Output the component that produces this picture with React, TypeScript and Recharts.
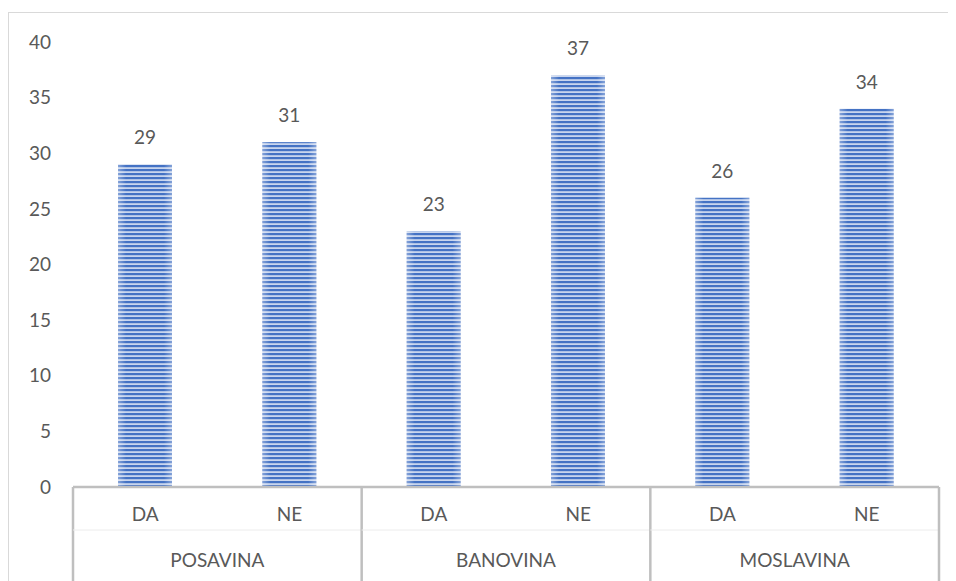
import React from "react";
import { Bar, BarChart, LabelList, XAxis, YAxis } from "recharts";

const groups = ["POSAVINA", "BANOVINA", "MOSLAVINA"];
const answers = ["DA", "NE"];
const values = [29, 31, 23, 37, 26, 34];
const yTicks = [0, 5, 10, 15, 20, 25, 30, 35, 40];

const data = values.map((value, i) => ({
  key: `${groups[Math.floor(i / answers.length)]}-${answers[i % answers.length]}`,
  answer: answers[i % answers.length],
  group: groups[Math.floor(i / answers.length)],
  value,
}));

const W = 946;
const H = 569;
const X_HEIGHT = 95;
const M = { top: 29, right: 16, bottom: 0, left: 0 };
const Y_WIDTH = 64;
const BAND = (W - M.left - M.right - Y_WIDTH) / values.length;
const TEXT = "#595959";
const AXIS = "#bfbfbf";
const FONT = "Lato, 'Open Sans', sans-serif";
const FS = 19;

const StripedBar = (props: any) => {
  const { x, y, width, height } = props;
  if (!height || height <= 0) return null;
  return (
    <g>
      <rect x={x} y={y} width={width} height={height} fill="url(#stripes)" />
      <rect x={x} y={y} width={width} height={height} fill="url(#sheen)" />
    </g>
  );
};

const CategoryTick = (props: any) => {
  const { x, y, index, payload } = props;
  const row = data[index] || data.find((d) => d.key === payload.value);
  const first = index % answers.length === 0;
  return (
    <g>
      <text
        x={x}
        y={y + 34}
        textAnchor="middle"
        fill={TEXT}
        fontSize={FS}
        fontFamily={FONT}
      >
        {row ? row.answer : ""}
      </text>
      {first && (
        <>
          <line
            x1={x - BAND / 2}
            x2={x - BAND / 2}
            y1={y}
            y2={H}
            stroke={AXIS}
            strokeWidth={2.5}
          />
          <line
            x1={x - BAND / 2}
            x2={x - BAND / 2 + BAND * answers.length}
            y1={y + 43}
            y2={y + 43}
            stroke="#ececec"
            strokeWidth={1}
          />
          <text
            x={x + BAND / 2}
            y={y + 80}
            textAnchor="middle"
            fill={TEXT}
            fontSize={FS}
            fontFamily={FONT}
          >
            {row ? row.group : ""}
          </text>
        </>
      )}
      {index === values.length - 1 && (
        <line
          x1={x + BAND / 2}
          x2={x + BAND / 2}
          y1={y}
          y2={H}
          stroke={AXIS}
          strokeWidth={2.5}
        />
      )}
    </g>
  );
};

export default function App() {
  return (
    <div
      style={{
        marginTop: 4,
        width: W,
        height: H + 10,
        border: "1px solid #d9d9d9",
        background: "#fff",
      }}
    >
      <BarChart width={W} height={H} data={data} margin={M}>
        <defs>
          <pattern
            id="stripes"
            patternUnits="userSpaceOnUse"
            width={8}
            height={4}
          >
            <rect x={0} y={0} width={8} height={4} fill="#c8d5ee" />
            <rect x={0} y={0} width={8} height={2.2} fill="#4472c4" />
          </pattern>
          <linearGradient id="sheen" x1="0" y1="0" x2="1" y2="0">
            <stop offset="0%" stopColor="#ffffff" stopOpacity={0.35} />
            <stop offset="15%" stopColor="#ffffff" stopOpacity={0} />
            <stop offset="85%" stopColor="#ffffff" stopOpacity={0} />
            <stop offset="100%" stopColor="#ffffff" stopOpacity={0.35} />
          </linearGradient>
        </defs>
        <XAxis
          dataKey="key"
          interval={0}
          height={X_HEIGHT}
          tickSize={0}
          tickMargin={0}
          axisLine={{ stroke: AXIS, strokeWidth: 2.5 }}
          tickLine={false}
          tick={<CategoryTick />}
        />
        <YAxis
          width={Y_WIDTH}
          domain={[0, 40]}
          ticks={yTicks}
          axisLine={false}
          tickLine={false}
          tickSize={0}
          tickMargin={22}
          tick={{ fill: TEXT, fontSize: FS, fontFamily: FONT }}
        />
        <Bar
          dataKey="value"
          barSize={54}
          shape={<StripedBar />}
          isAnimationActive={false}
        >
          <LabelList
            dataKey="value"
            position="top"
            offset={20}
            fill={TEXT}
            fontSize={FS}
            fontFamily={FONT}
          />
        </Bar>
      </BarChart>
    </div>
  );
}
